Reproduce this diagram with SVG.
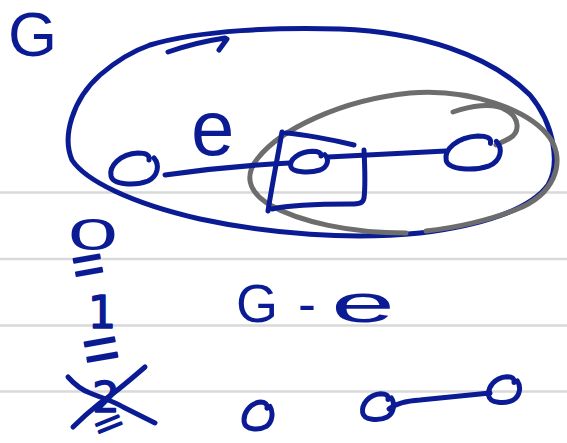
<svg xmlns="http://www.w3.org/2000/svg" width="567" height="443" viewBox="0 0 567 443">
  <style>
    .rule { stroke: #d9d9d9; stroke-width: 2.5; }
    .ink { fill: none; stroke: #0b1b94; stroke-width: 5; stroke-linecap: round; stroke-linejoin: round; }
    .pencil { fill: none; stroke: #6d6d6d; stroke-width: 5; stroke-linecap: round; stroke-linejoin: round; }
    .hand { fill: #0b1b94; font-family: "Liberation Sans", Arial, sans-serif; }
    .digit { fill: #0b1b94; stroke: #0b1b94; stroke-width: 1.6; stroke-linejoin: round; font-family: "DejaVu Sans", "Liberation Sans", sans-serif; }
    .eq { fill: #0b1b94; stroke: #0b1b94; stroke-width: 1.8; stroke-linejoin: round; font-family: "Liberation Sans", Arial, sans-serif; text-anchor: middle; }
  </style>

  <rect width="567" height="443" fill="#ffffff"/>

  <!-- ruled paper lines -->
  <g id="paper">
    <line class="rule" x1="0" y1="192.5" x2="567" y2="192.5"/>
    <line class="rule" x1="0" y1="259" x2="567" y2="259"/>
    <line class="rule" x1="0" y1="325.5" x2="567" y2="325.5"/>
    <line class="rule" x1="0" y1="391.5" x2="567" y2="391.5"/>
  </g>

  <!-- graph G: outer boundary with direction tick -->
  <g id="graph-G">
    <text class="hand" x="8" y="56" font-size="63">G</text>
    <path class="ink" d="M 150,45 C 200,30 280,27 340,29 C 420,32 490,55 530,95 C 555,125 560,165 548,185 C 530,210 480,226 420,233 C 350,240 270,234 200,219 C 130,203 85,180 72,160 C 62,137 72,100 100,75 C 115,62 130,52 150,45"/>
    <path class="ink" d="M 168,52 C 185,46 205,41 225,38 M 219,50 L 227,39"/>
  </g>

  <!-- component outline drawn in pencil -->
  <g id="component">
    <path class="pencil" d="M 406,233 C 350,233 300,222 270,205 C 248,192 244,175 258,158 C 280,130 340,100 410,93 C 470,88 530,110 550,138 C 566,162 555,195 515,210 C 490,220 455,228 426,231"/>
    <path class="pencil" d="M 453,112 C 470,106 493,102 506,110 C 520,118 520,132 510,138 C 505,141 500,143 496,145"/>
  </g>

  <!-- edges -->
  <g id="connectors">
    <path class="ink" d="M 165,175 C 200,170 250,165 290,163"/>
    <path class="ink" d="M 328,157 L 446,151"/>
    <path class="ink" d="M 389,409 C 395,404 405,401 420,400 L 490,393"/>
    <text class="hand" x="191" y="155" font-size="78">e</text>
  </g>

  <!-- vertices of G -->
  <g id="vertex-a">
    <path class="ink" d="M 149,160 C 150,155 146,153 138,153 C 120,154 109,166 111,176 C 113,185 135,186 148,181 C 158,176 160,165 154,158"/>
  </g>
  <g id="vertex-b">
    <path class="ink" d="M 321,156 C 321.6,152.7 318.5,151.3 312.2,151.3 C 298,152 289.2,160 290.8,166.7 C 292.4,172.7 309.8,173.3 320,170 C 328,166.7 329.5,159.3 324.8,154.7"/>
    <!-- box around the vertex -->
    <path class="ink" d="M 282,132 C 278,155 272,185 268,211"/>
    <path class="ink" d="M 286,133 C 300,134 330,139 354,145"/>
    <path class="ink" d="M 364,150 C 365,170 365,190 364,198 C 363,203 360,204 350,204 C 320,204 290,205 272,209"/>
  </g>
  <g id="vertex-c">
    <path class="ink" d="M 490.5,143.4 C 491.7,138.1 487,135.9 477.7,135.9 C 456.7,137 443.8,149.8 446.2,160.5 C 448.5,170.1 474.2,171.1 489.3,165.8 C 501,160.5 503.3,148.7 496.3,141.3"/>
  </g>

  <!-- count column -->
  <g id="counts">
    <text class="hand" x="68" y="250" font-size="45" textLength="50" lengthAdjust="spacingAndGlyphs">0</text>
    <text class="eq" x="88" y="283" font-size="54" transform="rotate(-10 88 266)">=</text>
    <text class="digit" x="102" y="328" font-size="44" text-anchor="middle">1</text>
    <text class="eq" x="101" y="370" font-size="62" transform="rotate(-10 101 350)">=</text>
    <text class="digit" x="106" y="412" font-size="43" text-anchor="middle">2</text>
    <path class="ink" d="M 68,377 C 75,385 82,390 90,393 C 105,399 115,402 123,407 C 135,413 145,418 155,423"/>
    <path class="ink" d="M 145,367 C 130,380 115,393 100,403 C 90,411 80,420 73,427"/>
    <text class="eq" x="109" y="434" font-size="30" textLength="28" lengthAdjust="spacingAndGlyphs" transform="rotate(-22 109 425)">=</text>
  </g>

  <!-- graph G-e -->
  <g id="graph-G-minus-e">
    <text class="hand" font-size="54" y="322"><tspan x="236">G</tspan><tspan x="298">-</tspan><tspan x="331" textLength="64" lengthAdjust="spacingAndGlyphs">e</tspan></text>
  </g>
  <g id="vertex-d">
    <path class="ink" d="M 267,408.2 C 267.6,403.9 265.2,402.1 260.4,402.1 C 249.6,403 243,413.4 244.2,422.1 C 245.4,429.9 258.6,430.7 266.4,426.4 C 272.4,422.1 273.6,412.5 270,406.5"/>
  </g>
  <g id="vertex-e">
    <path class="ink" d="M 388,399.5 C 388.7,395.3 386,393.7 380.7,393.7 C 368.7,394.5 361.3,404.5 362.7,412.8 C 364,420.3 378.7,421.2 387.3,417 C 394,412.8 395.3,403.7 391.3,397.8"/>
  </g>
  <g id="vertex-f">
    <path class="ink" d="M 514,382.5 C 514.7,378.3 512,376.7 506.7,376.7 C 494.7,377.5 487.3,387.5 488.7,395.8 C 490,403.3 504.7,404.2 513.3,400 C 520,395.8 521.3,386.7 517.3,380.8"/>
  </g>
</svg>
